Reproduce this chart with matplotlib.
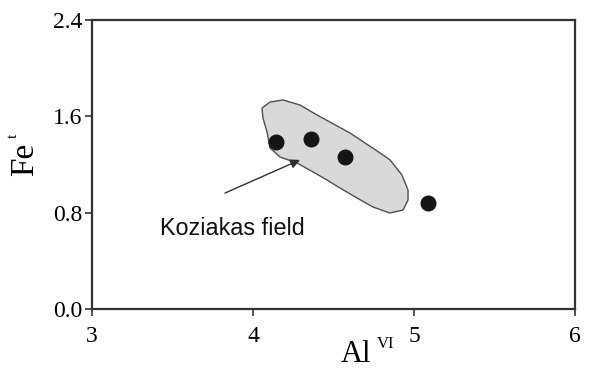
import matplotlib.pyplot as plt
from matplotlib.patches import Polygon

# sample points
al_vi = [4.14, 4.36, 4.57, 5.09]
fe_t = [1.39, 1.41, 1.26, 0.88]

# Koziakas field outline
field_x = [4.056, 4.106, 4.186, 4.292, 4.398, 4.602, 4.789, 4.851, 4.925, 4.963,
           4.963, 4.932, 4.851, 4.745, 4.646, 4.540, 4.460, 4.373, 4.273, 4.168,
           4.106, 4.087, 4.062]
field_y = [1.669, 1.719, 1.736, 1.694, 1.611, 1.462, 1.296, 1.238, 1.113, 0.988,
           0.905, 0.822, 0.797, 0.847, 0.922, 1.005, 1.071, 1.138, 1.213, 1.262,
           1.337, 1.470, 1.586]

xticks = [3, 4, 5, 6]
yticks = [0.0, 0.8, 1.6, 2.4]
ytick_labels = ['0.0', '0.8', '1.6', '2.4']

fig = plt.figure(figsize=(6, 3.69), dpi=100, facecolor='w')
ax = fig.add_axes([92/600, 1-309/369, (575-92)/600, (309-20)/369])

field = Polygon(list(zip(field_x, field_y)), closed=True, fc='#d9d9d9',
                ec='#505050', lw=1.0, joinstyle='round', zorder=1)
ax.add_patch(field)

ax.plot(al_vi, fe_t, 'o', color='#151515', ms=10.5, zorder=3)

ax.annotate('', xy=(4.292, 1.238), xytext=(3.826, 0.963),
            arrowprops=dict(arrowstyle='-|>', color='#303030', lw=1.0,
                            mutation_scale=14, shrinkA=0, shrinkB=0), zorder=4)
ax.text(3.422, 0.615, 'Koziakas field', family='Liberation Sans', fontsize=16.8,
        va='baseline', ha='left', color='#111111')

ax.set_xlim(3, 6)
ax.set_ylim(0, 2.4)
ax.set_xticks(xticks)
ax.set_yticks(yticks)
ax.set_yticklabels(ytick_labels)
for lab in ax.get_xticklabels() + ax.get_yticklabels():
    lab.set_family('Liberation Serif')
    lab.set_fontsize(17)
ax.tick_params(direction='out', length=5, width=1.2, color='#333333', pad=2)
ax.tick_params(axis='x', pad=7)

for s in ax.spines.values():
    s.set_color('#333333')
    s.set_linewidth(1.6)

fig.text(25/600, 1-159/369, 'Fe', rotation=90, ha='center', va='center',
         family='Liberation Serif', fontsize=24)
fig.text(13/600, 1-136/369, 't', rotation=90, ha='center', va='center',
         family='Liberation Serif', fontsize=11)
fig.text(356/600, 1-362/369, 'Al', ha='center', va='baseline',
         family='Liberation Serif', fontsize=22)
fig.text(386/600, 1-348/369, 'VI', ha='center', va='baseline',
         family='Liberation Serif', fontsize=12)

fig.savefig('out.png', dpi=100)
